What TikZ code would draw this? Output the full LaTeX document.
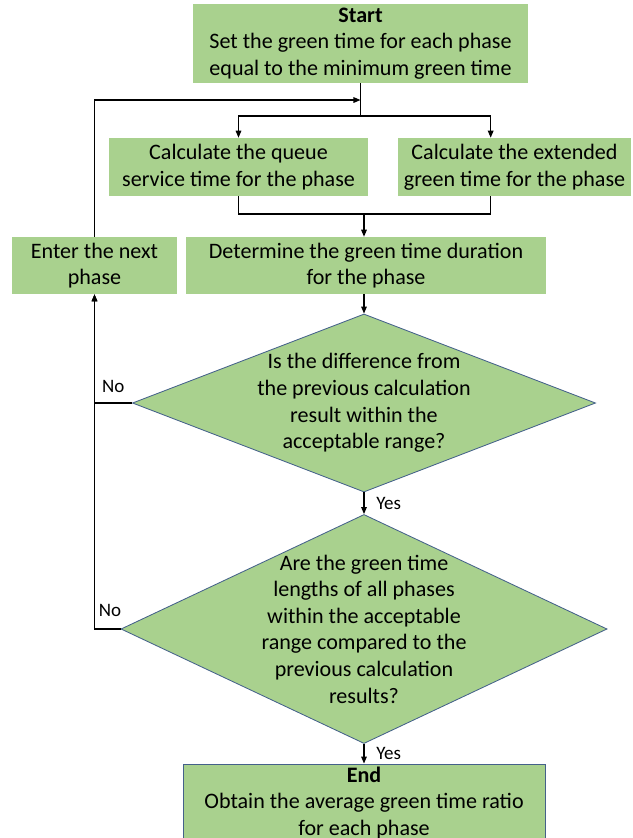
\documentclass[tikz,border=0pt]{standalone}
\usepackage{fontspec}
\setmainfont{Carlito}
\usepackage{xcolor}
\definecolor{boxGreen}{HTML}{A9D18E}
\definecolor{edgeBlue}{HTML}{44618A}
\usetikzlibrary{arrows.meta,shapes.geometric,calc}

\begin{document}
\begin{tikzpicture}[x=0.025cm, y=-0.025cm,
    every node/.style={font=\fontsize{15.7}{18.9}\selectfont},
    box/.style={fill=boxGreen, align=center, inner sep=1pt},
    endbox/.style={box, draw=edgeBlue, line width=0.6pt},
    dec/.style={diamond, fill=boxGreen, draw=edgeBlue, line width=0.6pt,
                aspect=2.4, inner sep=-10pt, align=center},
    lbl/.style={font=\fontsize{13.5}{16}\selectfont},
    ln/.style={line width=0.8pt},
    arr/.style={-{Triangle[length=5pt,width=4pt]}, line width=0.8pt}]
  \clip (0,0) rectangle (633,838);
  \node[box, minimum width=8.375cm, minimum height=1.975cm] (start) at (360.5,43.5)
       {\textbf{Start}\\Set the green time for each phase\\equal to the minimum green time};
  \node[box, minimum width=6.475cm, minimum height=1.45cm] (queue) at (238.5,167)
       {Calculate the queue\\service time for the phase};
  \node[box, minimum width=5.825cm, minimum height=1.45cm] (ext) at (514.5,167)
       {Calculate the extended\\green time for the phase};
  \node[box, minimum width=4.125cm, minimum height=1.425cm] (enter) at (94.5,265.5)
       {Enter the next\\phase};
  \node[box, minimum width=8.975cm, minimum height=1.425cm] (det) at (366,265.5)
       {Determine the green time duration\\for the phase};
  \node[dec, minimum width=11.575cm, minimum height=4.45cm] (chk1) at (364,403)
       {Is the difference from\\the previous calculation\\result within the\\acceptable range?};
  \node[dec, minimum width=12.15cm, minimum height=5.725cm] (chk2) at (364,629)
       {Are the green time\\lengths of all phases\\within the acceptable\\range compared to the\\previous calculation\\results?};
  \node[endbox, minimum width=9.05cm, minimum height=1.95cm] (stop) at (364,803)
       {\textbf{End}\\Obtain the average green time ratio\\for each phase};
  \coordinate (split) at (360.5,116);
  \coordinate (merge) at (364,214);
  \coordinate (back)  at (360.5,100);
  \draw[ln]  (start) -- (split);
  \draw[arr] (split) -| (queue.north);
  \draw[arr] (split) -| ($(ext.north west)+(93,0)$);
  \draw[ln]  (queue.south) |- (merge);
  \draw[ln]  ($(ext.south west)+(93,0)$) |- (merge);
  \draw[arr] (merge) -- (merge |- det.north);
  \draw[arr] (det.south -| chk1.north) -- (chk1.north);
  \draw[arr] (chk1) -- (chk2) node[midway, right=5pt, lbl] {Yes};
  \draw[arr] (chk2) -- (stop) node[midway, right=5pt, lbl] {Yes};
  \draw[arr] (chk1.west) -| (enter.south) node[pos=0.25, above=4pt, lbl] {No};
  \draw[arr] (chk2.west) -| (enter.south) node[pos=0.2, above=5pt, lbl] {No};
  \draw[arr] (enter.north) |- (back);
\end{tikzpicture}
\end{document}
